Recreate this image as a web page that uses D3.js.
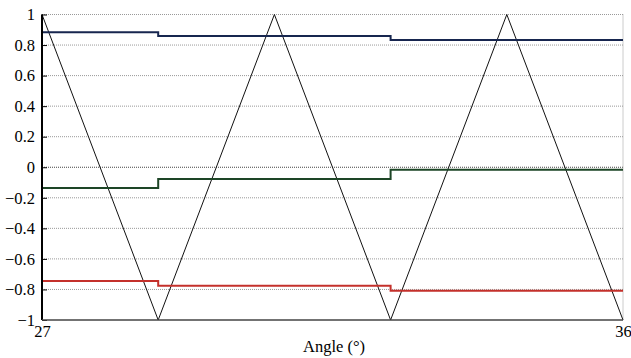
<!DOCTYPE html>
<html>
<head>
<meta charset="utf-8">
<script src="https://cdn.jsdelivr.net/npm/d3@7"></script>
<style>
  body { margin: 0; background: #fff; }
</style>
</head>
<body>
<svg id="chart" width="631" height="358"></svg>
<script>
// Triangle carrier
var triAngles = [27, 28.8, 30.6, 32.4, 34.2, 36];
var triValues = [1, -1, 1, -1, 1, -1];

// Stepped references (change at 28.8 and 32.4)
var stepAngles = [27, 28.8, 32.4, 36];
var blueValues = [0.884, 0.859, 0.833];
var greenValues = [-0.136, -0.077, -0.016];
var redValues = [-0.744, -0.776, -0.809];

var yTicks = [1, 0.8, 0.6, 0.4, 0.2, 0, -0.2, -0.4, -0.6, -0.8, -1];
var xTicks = [27, 36];

var serif = "'Liberation Serif', 'Times New Roman', serif";

var svg = d3.select("#chart");
var plotLeft = 42, plotRight = 623, plotTop = 14.5, plotBottom = 320;

var x = d3.scaleLinear().domain([27, 36]).range([plotLeft, plotRight]);
var y = d3.scaleLinear().domain([-1, 1]).range([plotBottom, plotTop]);

// grid lines
svg.append("g")
  .selectAll("line")
  .data(yTicks.filter(d => d > -1))
  .enter()
  .append("line")
  .attr("x1", plotLeft).attr("x2", plotRight)
  .attr("y1", d => y(d)).attr("y2", d => y(d))
  .attr("stroke", d => d === 0 ? "#444" : "#999")
  .attr("stroke-width", 1)
  .attr("stroke-dasharray", "1,1");

// right border
svg.append("line")
  .attr("x1", plotRight).attr("x2", plotRight)
  .attr("y1", plotTop).attr("y2", plotBottom)
  .attr("stroke", "#999")
  .attr("stroke-dasharray", "1,1");

// build step data as point lists
function stepPoints(vals) {
  var pts = [];
  for (var i = 0; i < vals.length; i++) {
    pts.push([stepAngles[i], vals[i]]);
    pts.push([stepAngles[i + 1], vals[i]]);
  }
  return pts;
}

var line = d3.line().x(d => x(d[0])).y(d => y(d[1]));

svg.append("path")
  .datum(triAngles.map((a, i) => [a, triValues[i]]))
  .attr("d", line)
  .attr("fill", "none")
  .attr("stroke", "#111")
  .attr("stroke-width", 1);

var series = [
  { vals: blueValues, color: "#17264f" },
  { vals: greenValues, color: "#1d4526" },
  { vals: redValues, color: "#c4302b" }
];
series.forEach(function (s) {
  svg.append("path")
    .datum(stepPoints(s.vals))
    .attr("d", line)
    .attr("fill", "none")
    .attr("stroke", s.color)
    .attr("stroke-width", 2);
});

// axes
var yAxis = svg.append("g")
  .attr("transform", "translate(" + plotLeft + ",0)")
  .call(d3.axisLeft(y).tickValues(yTicks).tickSize(-5).tickPadding(7)
    .tickFormat(d => d3.format("")(d).replace("-", "\u2212")));
yAxis.attr("font-family", serif).attr("font-size", 16.5);
yAxis.select(".domain").remove();
yAxis.selectAll(".tick line").attr("stroke", "#000");
yAxis.selectAll("text").attr("fill", "#000");

svg.append("line")
  .attr("x1", plotLeft).attr("x2", plotLeft)
  .attr("y1", plotTop).attr("y2", plotBottom)
  .attr("stroke", "#000").attr("stroke-width", 2);
svg.append("line")
  .attr("x1", plotLeft).attr("x2", plotRight)
  .attr("y1", plotBottom).attr("y2", plotBottom)
  .attr("stroke", "#444").attr("stroke-width", 1.5);

var xAxis = svg.append("g")
  .attr("transform", "translate(0," + plotBottom + ")")
  .call(d3.axisBottom(x).tickValues(xTicks).tickSize(0).tickPadding(5));
xAxis.attr("font-family", serif).attr("font-size", 16.5);
xAxis.select(".domain").remove();
xAxis.selectAll("text").attr("fill", "#000");

svg.append("text")
  .attr("x", 334).attr("y", 352)
  .attr("text-anchor", "middle")
  .attr("font-family", serif)
  .attr("font-size", 16.5)
  .text("Angle (\u00b0)");
</script>
</body>
</html>
